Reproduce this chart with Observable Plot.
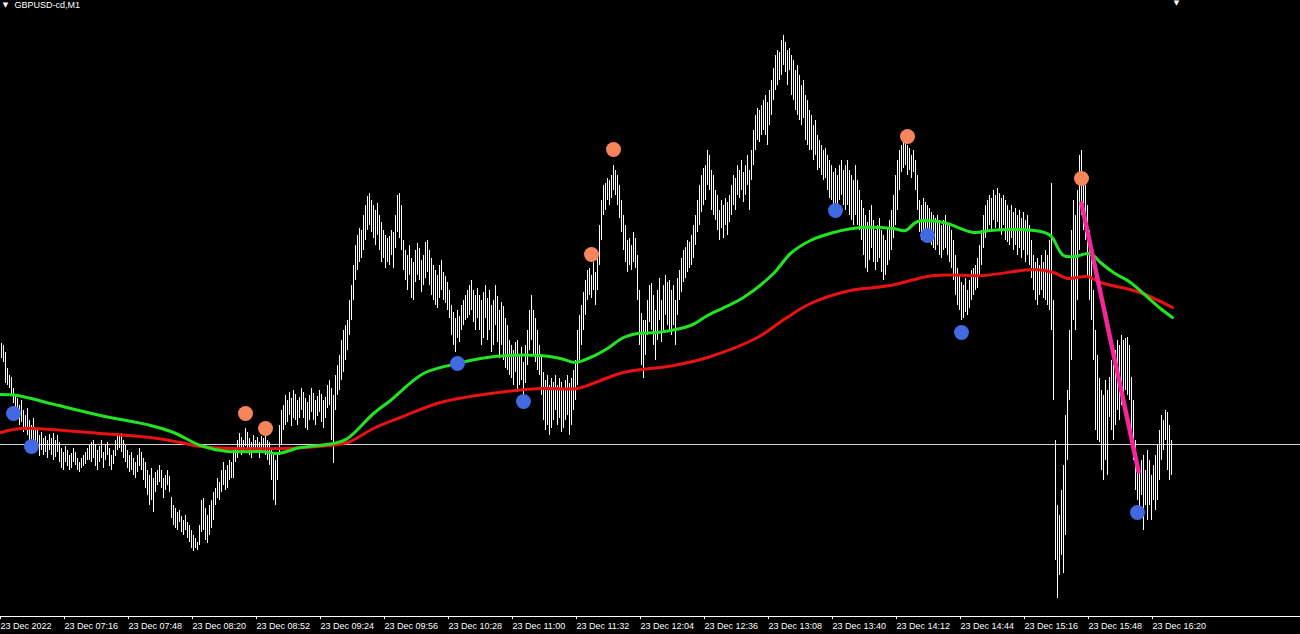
<!DOCTYPE html>
<html><head><meta charset="utf-8">
<script src="https://cdn.jsdelivr.net/npm/d3@7"></script>
<script src="https://cdn.jsdelivr.net/npm/@observablehq/plot@0.6"></script>
<style>html,body{margin:0;padding:0;background:#000;overflow:hidden}</style>
</head><body><div id="chart"></div>
<script>
const symbolTitle = "GBPUSD-cd,M1";
// minutes after 06:44 on 23 Dec 2022
const tickMinutes = [0,32,64,96,128,160,192,224,256,288,320,352,384,416,448,480,512,544,576];
const tickLabels = ["23 Dec 2022","23 Dec 07:16","23 Dec 07:48","23 Dec 08:20","23 Dec 08:52","23 Dec 09:24","23 Dec 09:56","23 Dec 10:28","23 Dec 11:00","23 Dec 11:32","23 Dec 12:04","23 Dec 12:36","23 Dec 13:08","23 Dec 13:40","23 Dec 14:12","23 Dec 14:44","23 Dec 15:16","23 Dec 15:48","23 Dec 16:20"];
const firstBarMinute = 1;
const highs = [
1.20657,1.20655,1.20648,1.20632,1.20625,1.20623,1.20612,1.20605,1.20602,1.20595,
1.20600,1.20590,1.20585,1.20592,1.20580,1.20575,1.20582,1.20570,1.20572,1.20565,
1.20568,1.20562,1.20564,1.20560,1.20566,1.20562,1.20567,1.20560,1.20565,1.20558,
1.20552,1.20548,1.20554,1.20550,1.20545,1.20547,1.20552,1.20548,1.20542,1.20538,
1.20542,1.20545,1.20548,1.20552,1.20555,1.20558,1.20560,1.20556,1.20550,1.20554,
1.20560,1.20548,1.20555,1.20558,1.20552,1.20545,1.20550,1.20560,1.20567,1.20564,
1.20567,1.20560,1.20555,1.20550,1.20545,1.20548,1.20542,1.20538,1.20545,1.20552,
1.20548,1.20542,1.20538,1.20530,1.20525,1.20532,1.20522,1.20528,1.20530,1.20535,
1.20530,1.20522,1.20525,1.20530,1.20524,1.20503,1.20495,1.20492,1.20488,1.20490,
1.20484,1.20480,1.20485,1.20478,1.20475,1.20470,1.20465,1.20462,1.20458,1.20475,
1.20500,1.20502,1.20492,1.20485,1.20495,1.20500,1.20508,1.20512,1.20522,1.20518,
1.20530,1.20538,1.20530,1.20535,1.20540,1.20538,1.20550,1.20552,1.20560,1.20567,
1.20563,1.20560,1.20572,1.20568,1.20562,1.20558,1.20565,1.20560,1.20563,1.20558,
1.20564,1.20562,1.20567,1.20560,1.20558,1.20552,1.20545,1.20540,1.20545,1.20575,
1.20590,1.20595,1.20605,1.20600,1.20608,1.20602,1.20610,1.20606,1.20600,1.20603,
1.20612,1.20608,1.20602,1.20598,1.20605,1.20612,1.20607,1.20600,1.20604,1.20610,
1.20606,1.20600,1.20603,1.20615,1.20620,1.20612,1.20605,1.20625,1.20635,1.20645,
1.20660,1.20670,1.20675,1.20680,1.20700,1.20715,1.20735,1.20755,1.20765,1.20772,
1.20770,1.20785,1.20795,1.20804,1.20807,1.20800,1.20795,1.20790,1.20797,1.20785,
1.20778,1.20770,1.20765,1.20762,1.20764,1.20770,1.20768,1.20785,1.20805,1.20807,
1.20795,1.20760,1.20750,1.20745,1.20755,1.20742,1.20738,1.20750,1.20757,1.20752,
1.20740,1.20745,1.20758,1.20760,1.20750,1.20742,1.20735,1.20730,1.20725,1.20735,
1.20740,1.20728,1.20724,1.20718,1.20710,1.20695,1.20688,1.20682,1.20690,1.20684,
1.20695,1.20700,1.20705,1.20710,1.20715,1.20720,1.20710,1.20705,1.20712,1.20705,
1.20700,1.20708,1.20715,1.20702,1.20710,1.20695,1.20700,1.20715,1.20704,1.20690,
1.20698,1.20694,1.20682,1.20675,1.20660,1.20655,1.20650,1.20658,1.20660,1.20645,
1.20653,1.20638,1.20655,1.20670,1.20690,1.20705,1.20690,1.20682,1.20670,1.20655,
1.20645,1.20628,1.20620,1.20625,1.20615,1.20622,1.20618,1.20625,1.20615,1.20622,
1.20618,1.20612,1.20620,1.20625,1.20617,1.20622,1.20630,1.20640,1.20670,1.20685,
1.20695,1.20708,1.20720,1.20730,1.20732,1.20725,1.20738,1.20728,1.20745,1.20775,
1.20800,1.20815,1.20817,1.20822,1.20820,1.20825,1.20835,1.20830,1.20825,1.20815,
1.20800,1.20785,1.20775,1.20760,1.20762,1.20755,1.20768,1.20762,1.20745,1.20710,
1.20687,1.20680,1.20680,1.20700,1.20715,1.20717,1.20705,1.20690,1.20710,1.20722,
1.20700,1.20715,1.20725,1.20718,1.20720,1.20710,1.20715,1.20700,1.20722,1.20730,
1.20742,1.20750,1.20753,1.20760,1.20758,1.20765,1.20775,1.20785,1.20800,1.20815,
1.20825,1.20832,1.20835,1.20850,1.20845,1.20830,1.20825,1.20810,1.20805,1.20790,
1.20800,1.20795,1.20802,1.20798,1.20805,1.20815,1.20825,1.20822,1.20835,1.20830,
1.20840,1.20828,1.20835,1.20845,1.20830,1.20850,1.20870,1.20885,1.20892,1.20890,
1.20895,1.20900,1.20905,1.20898,1.20910,1.20920,1.20932,1.20945,1.20950,1.20948,
1.20960,1.20965,1.20958,1.20950,1.20952,1.20945,1.20940,1.20930,1.20935,1.20925,
1.20915,1.20920,1.20905,1.20900,1.20890,1.20885,1.20875,1.20880,1.20865,1.20860,
1.20855,1.20850,1.20852,1.20845,1.20840,1.20835,1.20828,1.20832,1.20825,1.20835,
1.20840,1.20830,1.20835,1.20840,1.20830,1.20825,1.20820,1.20835,1.20820,1.20810,
1.20800,1.20792,1.20785,1.20778,1.20790,1.20795,1.20780,1.20770,1.20775,1.20782,
1.20770,1.20765,1.20760,1.20772,1.20780,1.20790,1.20805,1.20825,1.20840,1.20850,
1.20855,1.20860,1.20857,1.20855,1.20852,1.20845,1.20850,1.20840,1.20825,1.20800,
1.20795,1.20802,1.20798,1.20795,1.20792,1.20788,1.20785,1.20782,1.20785,1.20780,
1.20775,1.20780,1.20785,1.20778,1.20775,1.20770,1.20760,1.20745,1.20732,1.20725,
1.20718,1.20715,1.20722,1.20710,1.20720,1.20730,1.20732,1.20735,1.20742,1.20755,
1.20770,1.20785,1.20795,1.20800,1.20805,1.20802,1.20810,1.20805,1.20812,1.20807,
1.20802,1.20805,1.20800,1.20795,1.20790,1.20795,1.20788,1.20792,1.20785,1.20790,
1.20782,1.20788,1.20780,1.20785,1.20775,1.20760,1.20745,1.20738,1.20742,1.20735,
1.20745,1.20738,1.20750,1.20745,1.20760,1.20817,1.20700,1.20560,1.20495,1.20485,
1.20510,1.20535,1.20585,1.20610,1.20670,1.20770,1.20800,1.20785,1.20810,1.20845,
1.20850,1.20825,1.20815,1.20795,1.20770,1.20740,1.20710,1.20670,1.20645,1.20622,
1.20610,1.20605,1.20620,1.20610,1.20623,1.20640,1.20635,1.20650,1.20660,1.20655,
1.20665,1.20660,1.20662,1.20663,1.20655,1.20623,1.20600,1.20560,1.20535,1.20530,
1.20540,1.20545,1.20530,1.20550,1.20540,1.20525,1.20535,1.20545,1.20555,1.20570,
1.20585,1.20580,1.20590,1.20588,1.20575,1.20560];
const lows = [
1.20642,1.20638,1.20617,1.20615,1.20612,1.20605,1.20597,1.20588,1.20582,1.20575,
1.20578,1.20568,1.20570,1.20565,1.20560,1.20555,1.20560,1.20548,1.20552,1.20544,
1.20550,1.20545,1.20548,1.20542,1.20550,1.20545,1.20540,1.20543,1.20548,1.20538,
1.20532,1.20530,1.20538,1.20534,1.20530,1.20532,1.20538,1.20535,1.20530,1.20528,
1.20532,1.20534,1.20536,1.20540,1.20540,1.20538,1.20542,1.20534,1.20530,1.20538,
1.20542,1.20532,1.20540,1.20545,1.20534,1.20530,1.20536,1.20544,1.20550,1.20552,
1.20548,1.20542,1.20538,1.20532,1.20528,1.20530,1.20525,1.20522,1.20528,1.20534,
1.20530,1.20520,1.20512,1.20505,1.20495,1.20500,1.20488,1.20508,1.20515,1.20518,
1.20512,1.20502,1.20510,1.20515,1.20508,1.20482,1.20475,1.20472,1.20470,1.20478,
1.20468,1.20465,1.20470,1.20462,1.20458,1.20452,1.20449,1.20452,1.20450,1.20455,
1.20468,1.20470,1.20460,1.20457,1.20465,1.20472,1.20480,1.20495,1.20502,1.20500,
1.20508,1.20515,1.20510,1.20512,1.20520,1.20522,1.20522,1.20538,1.20542,1.20550,
1.20545,1.20548,1.20554,1.20552,1.20545,1.20542,1.20550,1.20547,1.20552,1.20542,
1.20548,1.20550,1.20545,1.20540,1.20535,1.20520,1.20500,1.20495,1.20520,1.20545,
1.20555,1.20570,1.20575,1.20578,1.20585,1.20574,1.20582,1.20580,1.20575,1.20582,
1.20590,1.20582,1.20572,1.20570,1.20580,1.20588,1.20580,1.20575,1.20584,1.20588,
1.20578,1.20572,1.20582,1.20592,1.20595,1.20560,1.20537,1.20590,1.20605,1.20610,
1.20620,1.20628,1.20640,1.20650,1.20665,1.20680,1.20700,1.20720,1.20730,1.20738,
1.20742,1.20750,1.20760,1.20770,1.20775,1.20768,1.20762,1.20755,1.20765,1.20750,
1.20738,1.20742,1.20732,1.20738,1.20735,1.20745,1.20732,1.20752,1.20768,1.20762,
1.20750,1.20730,1.20720,1.20710,1.20725,1.20702,1.20700,1.20718,1.20725,1.20720,
1.20708,1.20715,1.20722,1.20728,1.20715,1.20705,1.20700,1.20695,1.20692,1.20702,
1.20710,1.20700,1.20697,1.20690,1.20682,1.20665,1.20655,1.20648,1.20662,1.20658,
1.20670,1.20675,1.20680,1.20682,1.20685,1.20690,1.20678,1.20670,1.20682,1.20670,
1.20655,1.20662,1.20682,1.20660,1.20670,1.20648,1.20655,1.20675,1.20658,1.20642,
1.20655,1.20640,1.20632,1.20630,1.20625,1.20622,1.20615,1.20628,1.20608,1.20615,
1.20620,1.20605,1.20617,1.20635,1.20650,1.20660,1.20645,1.20638,1.20630,1.20625,
1.20605,1.20580,1.20570,1.20575,1.20565,1.20572,1.20580,1.20590,1.20575,1.20582,
1.20568,1.20572,1.20580,1.20585,1.20565,1.20575,1.20590,1.20600,1.20615,1.20640,
1.20655,1.20670,1.20685,1.20700,1.20705,1.20702,1.20710,1.20695,1.20710,1.20735,
1.20760,1.20785,1.20790,1.20800,1.20795,1.20802,1.20810,1.20805,1.20795,1.20782,
1.20768,1.20750,1.20738,1.20728,1.20735,1.20730,1.20738,1.20732,1.20700,1.20655,
1.20635,1.20622,1.20645,1.20665,1.20678,1.20670,1.20655,1.20640,1.20660,1.20680,
1.20658,1.20670,1.20685,1.20675,1.20670,1.20665,1.20675,1.20655,1.20685,1.20700,
1.20708,1.20718,1.20722,1.20728,1.20732,1.20735,1.20742,1.20755,1.20768,1.20775,
1.20788,1.20795,1.20800,1.20815,1.20810,1.20790,1.20785,1.20780,1.20770,1.20760,
1.20772,1.20762,1.20775,1.20765,1.20778,1.20785,1.20795,1.20790,1.20805,1.20802,
1.20810,1.20798,1.20805,1.20815,1.20790,1.20820,1.20835,1.20850,1.20860,1.20858,
1.20865,1.20870,1.20865,1.20855,1.20875,1.20885,1.20900,1.20910,1.20915,1.20920,
1.20925,1.20935,1.20928,1.20915,1.20930,1.20905,1.20900,1.20890,1.20885,1.20880,
1.20875,1.20882,1.20860,1.20855,1.20850,1.20850,1.20840,1.20845,1.20830,1.20832,
1.20825,1.20820,1.20822,1.20810,1.20802,1.20800,1.20795,1.20795,1.20792,1.20800,
1.20805,1.20795,1.20790,1.20795,1.20785,1.20780,1.20775,1.20785,1.20775,1.20770,
1.20760,1.20745,1.20732,1.20728,1.20740,1.20752,1.20738,1.20730,1.20738,1.20742,
1.20728,1.20720,1.20725,1.20735,1.20740,1.20750,1.20762,1.20775,1.20790,1.20810,
1.20828,1.20832,1.20835,1.20825,1.20830,1.20822,1.20828,1.20810,1.20790,1.20768,
1.20760,1.20770,1.20764,1.20762,1.20758,1.20755,1.20752,1.20750,1.20755,1.20745,
1.20742,1.20750,1.20752,1.20745,1.20738,1.20732,1.20720,1.20705,1.20695,1.20690,
1.20680,1.20682,1.20688,1.20685,1.20692,1.20700,1.20705,1.20710,1.20712,1.20725,
1.20735,1.20752,1.20762,1.20770,1.20775,1.20768,1.20780,1.20772,1.20778,1.20770,
1.20765,1.20775,1.20760,1.20758,1.20755,1.20762,1.20750,1.20755,1.20745,1.20752,
1.20742,1.20750,1.20738,1.20745,1.20735,1.20722,1.20710,1.20700,1.20695,1.20705,
1.20710,1.20702,1.20700,1.20695,1.20690,1.20670,1.20600,1.20440,1.20402,1.20425,
1.20445,1.20427,1.20465,1.20540,1.20600,1.20640,1.20680,1.20670,1.20700,1.20750,
1.20785,1.20770,1.20760,1.20725,1.20700,1.20680,1.20640,1.20570,1.20560,1.20558,
1.20530,1.20520,1.20540,1.20525,1.20583,1.20570,1.20560,1.20575,1.20590,1.20580,
1.20595,1.20600,1.20610,1.20605,1.20600,1.20560,1.20540,1.20510,1.20500,1.20490,
1.20505,1.20470,1.20495,1.20480,1.20495,1.20480,1.20500,1.20490,1.20500,1.20520,
1.20540,1.20550,1.20560,1.20530,1.20520,1.20525];

// moving averages (read at points along each curve)
const fastMAMinutes = [0.5,9,25.5,50.5,75.5,87,100.5,114,130.5,139,150.5,167,174,187,195.5,212,229,240.5,254,270.5,280.5,288,295.5,304,312,319,329,345.5,354,372,387,395.5,405.5,417,430.5,447,453,459,472,487,495.5,509,520.5,525.5,532,538,544,547,550.5,557,565.5,572,580.5,586.5];
const fastMAValues = [1.20606,1.20605,1.20597,1.20585,1.20575,1.20568,1.20555,1.20549,1.20549,1.20547,1.20553,1.20557,1.20562,1.20587,1.20600,1.20627,1.20637,1.20642,1.20645,1.20645,1.20642,1.20638,1.20643,1.20652,1.20663,1.20667,1.20668,1.20675,1.20685,1.20703,1.20727,1.20747,1.20760,1.20768,1.20773,1.20772,1.20770,1.20779,1.20778,1.20768,1.20770,1.20771,1.20769,1.20765,1.20745,1.20744,1.20747,1.20745,1.20738,1.20728,1.20718,1.20707,1.20692,1.20683];
const slowMAMinutes = [0.5,10.5,25.5,50.5,75.5,90.5,100.5,117,142,159,174,187,200.5,220.5,245.5,270.5,289,300.5,312,337,354,379,393,405.5,425.5,445.5,467,492,517,527,534,544,550.5,567,574,586.5];
const slowMAValues = [1.20568,1.20572,1.20571,1.20567,1.20563,1.20558,1.20554,1.20552,1.20552,1.20554,1.20558,1.20572,1.20583,1.20598,1.20607,1.20612,1.20612,1.20620,1.20628,1.20635,1.20643,1.20663,1.20682,1.20697,1.20710,1.20715,1.20725,1.20725,1.20731,1.20728,1.20722,1.20724,1.20718,1.20710,1.20705,1.20693];

// signal dots
const sellMinutes = [123,133,296,307,454,541];
const sellPrices = [1.20587,1.20572,1.20746,1.20851,1.20864,1.20822];
const buyMinutes = [7,16,229,262,418,464,481,569];
const buyPrices = [1.20587,1.20554,1.20637,1.20599,1.20790,1.20765,1.20668,1.20488];

// trend line
const trendMinutes = [541,569.5];
const trendPrices = [1.20797,1.20529];
const levelPrice = 1.20556;
const priceMin = 1.20384, priceMax = 1.21000;

const bars = highs.slice(0, Math.min(highs.length, lows.length)).map((h, i) => ({m: firstBarMinute + i, high: h, low: lows[i]}));
const fastMA = fastMAMinutes.map((m, i) => ({m, v: fastMAValues[i]}));
const slowMA = slowMAMinutes.map((m, i) => ({m, v: slowMAValues[i]}));
const sells = sellMinutes.map((m, i) => ({m, p: sellPrices[i]}));
const buys = buyMinutes.map((m, i) => ({m, p: buyPrices[i]}));
const trend = trendMinutes.map((m, i) => ({m, p: trendPrices[i]}));
const labelMap = new Map(tickMinutes.map((m, i) => [m, tickLabels[i]]));

const chart = Plot.plot({
  width: 1300, height: 634,
  marginTop: 0, marginRight: 0, marginBottom: 18, marginLeft: 0,
  style: {background: "#000", color: "#fff", fontFamily: "'Liberation Sans', Arial, sans-serif", fontSize: "9px"},
  x: {domain: [0.5, 650.5], axis: null, label: null},
  y: {domain: [priceMin, priceMax], axis: null, label: null},
  marks: [
    Plot.ruleY([levelPrice], {stroke: "#d4d4d4", strokeWidth: 1}),
    Plot.ruleX(bars, {x: "m", y1: "low", y2: "high", stroke: "#ffffff", strokeWidth: 1}),
    Plot.line(slowMA, {x: "m", y: "v", stroke: "#e81212", strokeWidth: 3, curve: "catmull-rom"}),
    Plot.line(fastMA, {x: "m", y: "v", stroke: "#22e422", strokeWidth: 3, curve: "catmull-rom"}),
    Plot.line(trend, {x: "m", y: "p", stroke: "#f5259a", strokeWidth: 4.5, strokeLinecap: "round"}),
    Plot.dot(sells, {x: "m", y: "p", r: 7.5, fill: "#f6855c", stroke: "none"}),
    Plot.dot(buys, {x: "m", y: "p", r: 7.5, fill: "#4169e1", stroke: "none"}),
    Plot.ruleY([priceMin], {stroke: "#ffffff", strokeWidth: 1}),
    Plot.axisX({ticks: tickMinutes, tickFormat: d => labelMap.get(d), label: null, tickSize: 3, tickPadding: 3, textAnchor: "start", dx: 1, fill: "#ffffff", fontSize: 9}),
    Plot.text([symbolTitle], {frameAnchor: "top-left", dx: 14, dy: 1, textAnchor: "start", lineAnchor: "top", fill: "#ffffff", fontSize: 9}),
    Plot.text(["\u25BC"], {frameAnchor: "top-left", dx: 5, dy: 2, textAnchor: "middle", lineAnchor: "top", fill: "#ffffff", fontSize: 7, fontFamily: "DejaVu Sans"}),
    Plot.text(["\u25BC"], {frameAnchor: "top-left", dx: 1176, dy: 0, textAnchor: "middle", lineAnchor: "top", fill: "#ffffff", fontSize: 7, fontFamily: "DejaVu Sans"})
  ]
});
document.getElementById("chart").appendChild(chart);
</script>
</body></html>
